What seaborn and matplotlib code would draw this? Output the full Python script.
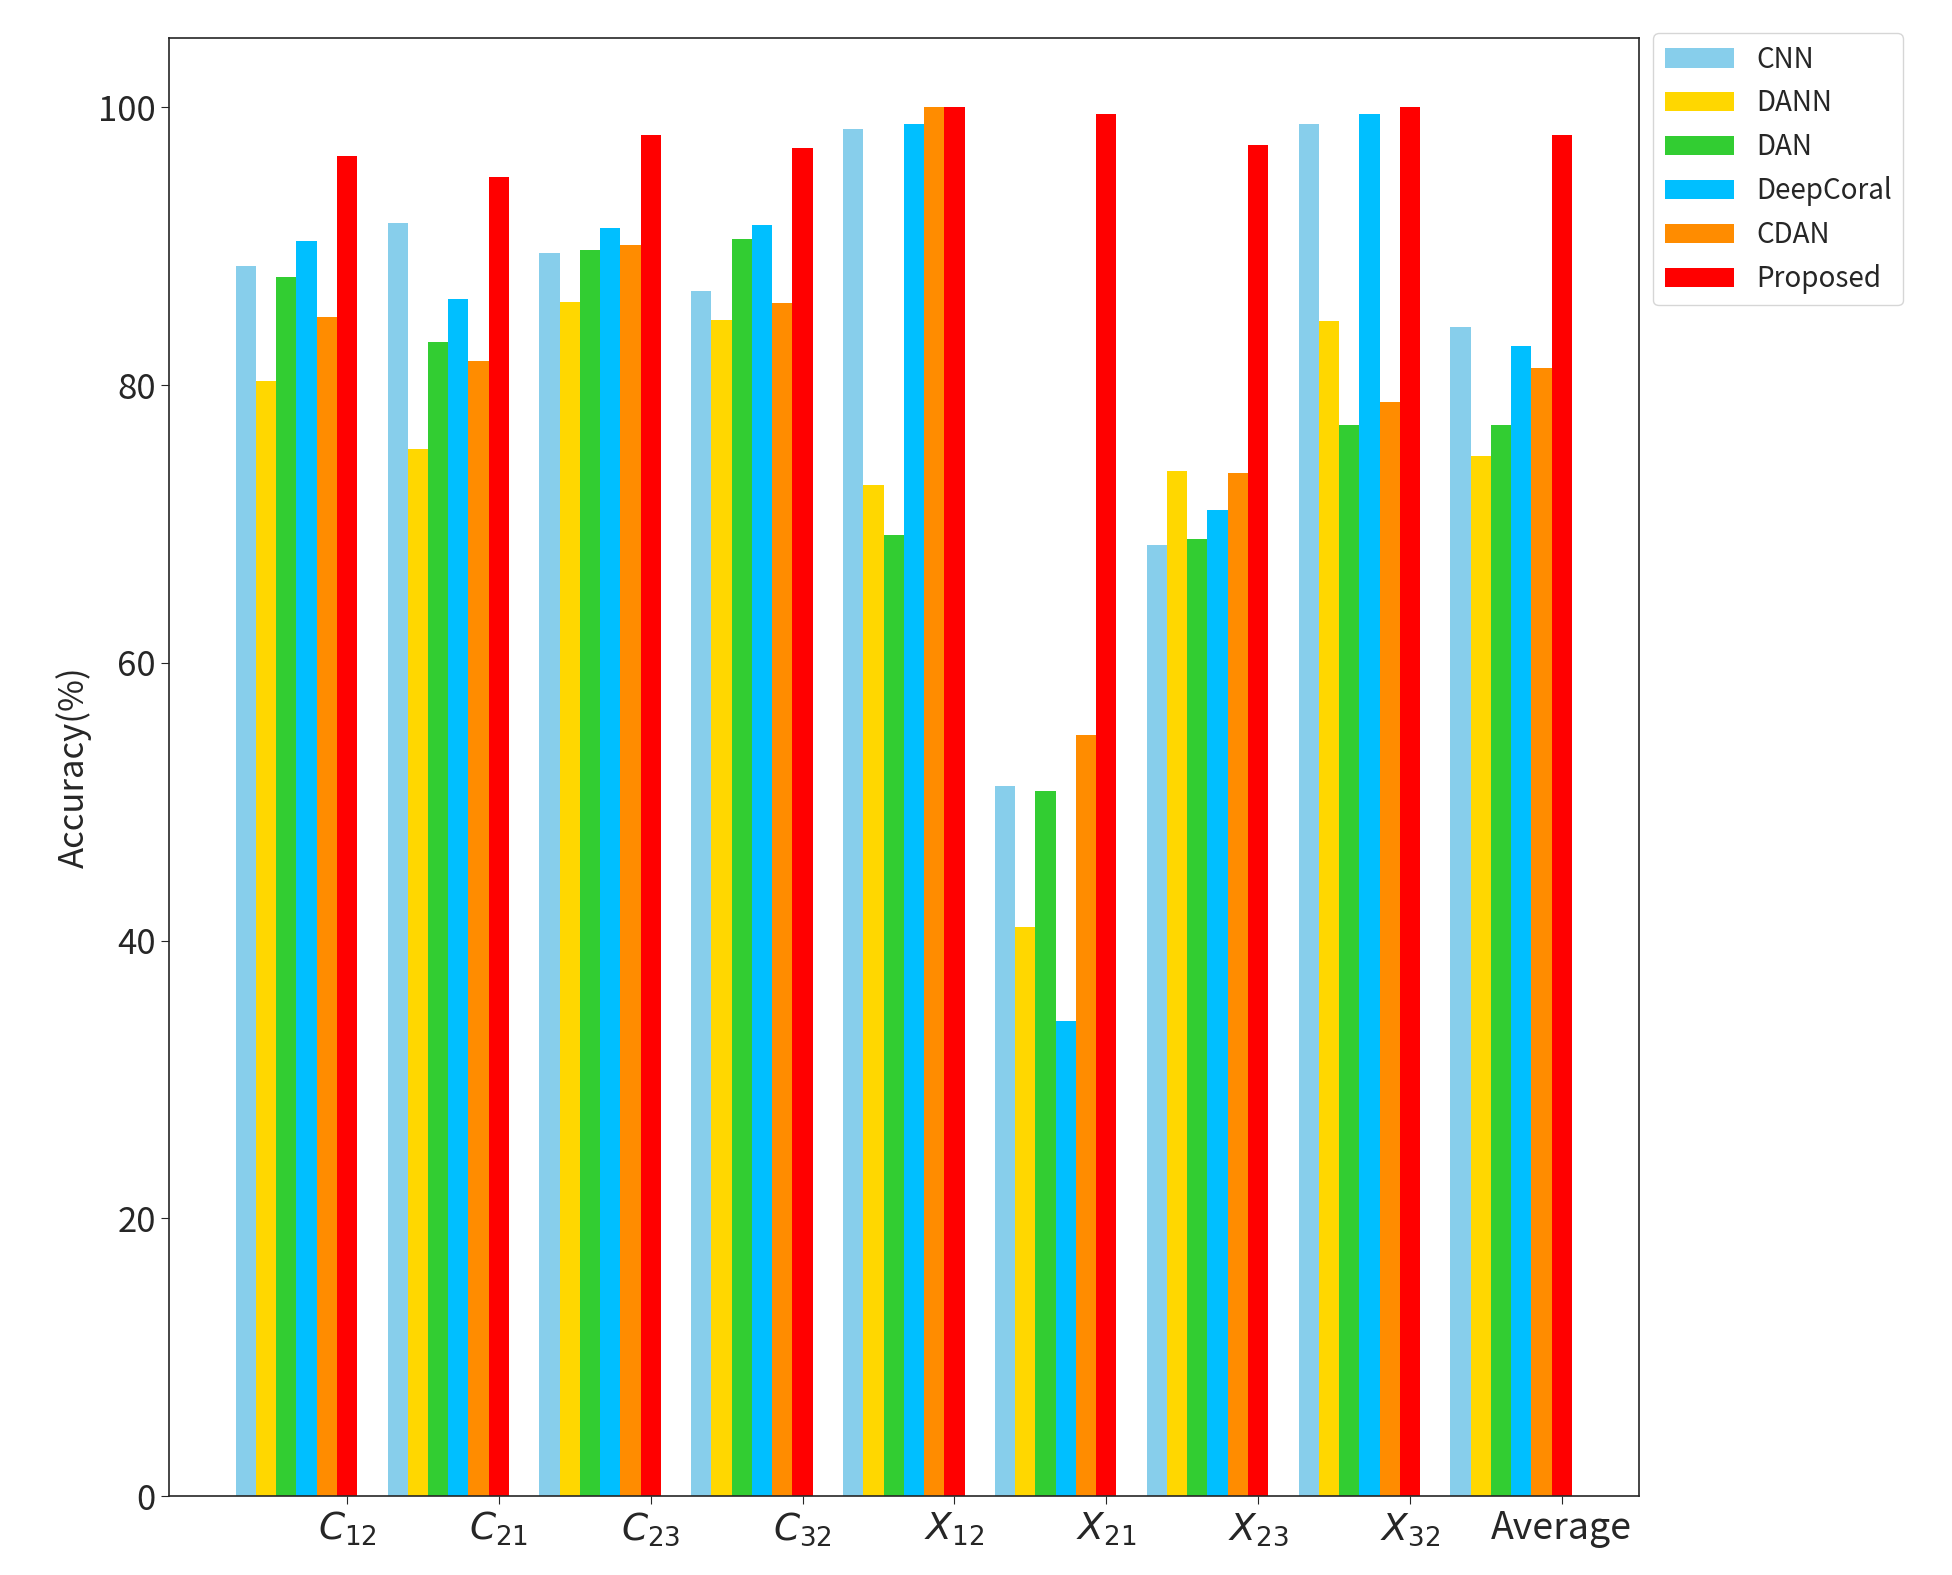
import matplotlib
matplotlib.use("Agg")
import matplotlib.pyplot as plt
import seaborn as sns
import pandas as pd

categories = ["$C_{12}$", "$C_{21}$", "$C_{23}$", "$C_{32}$", "$X_{12}$", "$X_{21}$", "$X_{23}$", "$X_{32}$", "Average"]
methods = ["CNN", "DANN", "DAN", "DeepCoral", "CDAN", "Proposed"]
cnn = [88.6, 91.7, 89.5, 86.8, 98.4, 51.1, 68.5, 98.8, 84.2]
dann = [80.3, 75.4, 86.0, 84.7, 72.8, 41.0, 73.8, 84.6, 74.9]
dan = [87.8, 83.1, 89.7, 90.5, 69.2, 50.8, 68.9, 77.1, 77.1]
deepcoral = [90.4, 86.2, 91.3, 91.5, 98.8, 34.2, 71.0, 99.5, 82.8]
cdan = [84.9, 81.7, 90.1, 85.9, 100.0, 54.8, 73.7, 78.8, 81.2]
proposed = [96.5, 95.0, 98.0, 97.1, 100.0, 99.5, 97.3, 100.0, 98.0]
colors = ["skyblue", "gold", "limegreen", "deepskyblue", "darkorange", "red"]

series = [cnn, dann, dan, deepcoral, cdan, proposed]
rows = []
for m, vals in zip(methods, series):
    for c, v in zip(categories, vals):
        rows.append({"Task": c, "Method": m, "Accuracy": v})
df = pd.DataFrame(rows)

sns.set_style("ticks")
plt.rcParams['font.family'] = ['Noto Sans CJK SC', 'DejaVu Sans']
plt.rcParams['mathtext.fontset'] = 'dejavusans'

fig = plt.figure(figsize=(19.52, 15.75), dpi=100)
ax = fig.add_axes([0.0865, 0.05, 0.753, 0.926])
sns.barplot(data=df, x="Task", y="Accuracy", hue="Method", order=categories,
            hue_order=methods, palette=colors, width=0.8, gap=0, saturation=1,
            ax=ax, linewidth=0, errorbar=None)
bw = 0.8 / 6
ax.set_xticks([i + 2.5 * bw for i in range(len(categories))])
ax.set_xticklabels(categories, fontsize=27)
ax.set_xlim(-0.84, 8.84)
ax.set_ylim(0, 105)
ax.set_yticks([0, 20, 40, 60, 80, 100])
ax.tick_params(axis='y', labelsize=25, length=6)
ax.tick_params(axis='x', length=6)
ax.set_xlabel("")
ax.set_ylabel("Accuracy(%)", fontsize=25)
for s in ax.spines.values():
    s.set_visible(True)
    s.set_linewidth(1.2)
ax.legend(loc="upper left", bbox_to_anchor=(1.01, 1.003), fontsize=20,
          frameon=True, borderaxespad=0, handlelength=2.5)
fig.savefig("out.png", dpi=100)
